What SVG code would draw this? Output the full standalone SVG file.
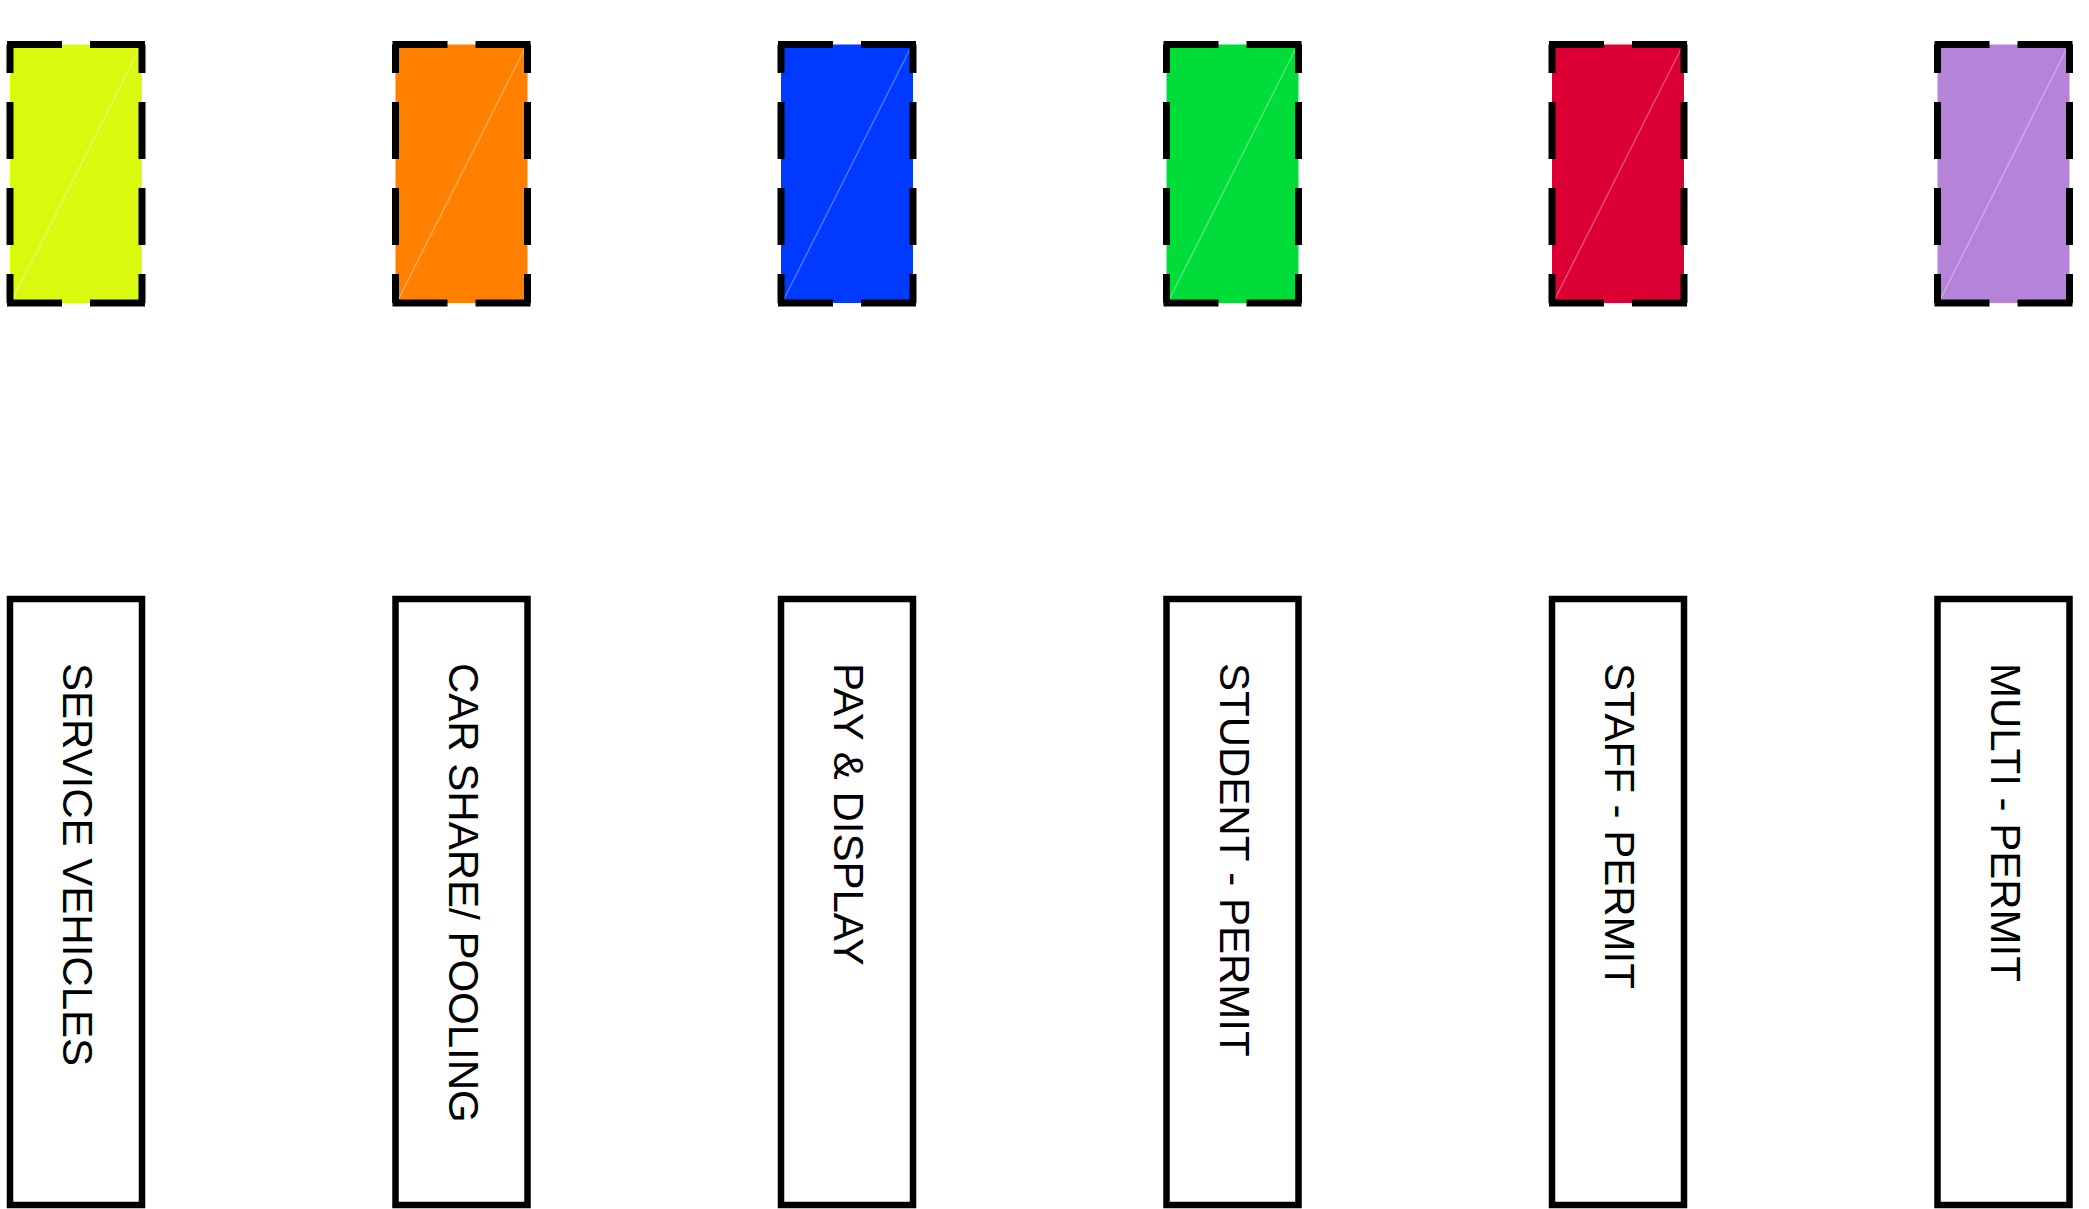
<svg xmlns="http://www.w3.org/2000/svg" width="2089" height="1209" viewBox="0 0 2089 1209">
<style>
.edge { stroke:#000; stroke-width:7; fill:none; }
.h { stroke-dasharray:55 28; }
.v { stroke-dasharray:57 29; stroke-dashoffset:28.5; }
.diag { stroke:#fff; stroke-opacity:0.3; stroke-width:1.5; }
.label-box { fill:#fff; stroke:#000; stroke-width:6.5; }
.label { font-family:"Liberation Sans", Arial, sans-serif; font-size:42px; fill:#000; }
</style>
<rect width="2089" height="1209" fill="#fff"/>
<g id="swatch-service">
  <rect x="10" y="44.5" width="132" height="258.5" fill="#D9F90F"/>
  <line class="diag" x1="12" y1="301" x2="140" y2="47"/>
  <line class="edge h" x1="7" y1="44.5" x2="145" y2="44.5"/>
  <line class="edge h" x1="7" y1="303" x2="145" y2="303"/>
  <line class="edge v" x1="10" y1="44.5" x2="10" y2="303"/>
  <line class="edge v" x1="142" y1="44.5" x2="142" y2="303"/>
</g>
<g id="swatch-carshare">
  <rect x="395.5" y="44.5" width="132" height="258.5" fill="#FF8000"/>
  <line class="diag" x1="397.5" y1="301" x2="525.5" y2="47"/>
  <line class="edge h" x1="392.5" y1="44.5" x2="530.5" y2="44.5"/>
  <line class="edge h" x1="392.5" y1="303" x2="530.5" y2="303"/>
  <line class="edge v" x1="395.5" y1="44.5" x2="395.5" y2="303"/>
  <line class="edge v" x1="527.5" y1="44.5" x2="527.5" y2="303"/>
</g>
<g id="swatch-paydisplay">
  <rect x="781" y="44.5" width="132" height="258.5" fill="#0039FF"/>
  <line class="diag" x1="783" y1="301" x2="911" y2="47"/>
  <line class="edge h" x1="778" y1="44.5" x2="916" y2="44.5"/>
  <line class="edge h" x1="778" y1="303" x2="916" y2="303"/>
  <line class="edge v" x1="781" y1="44.5" x2="781" y2="303"/>
  <line class="edge v" x1="913" y1="44.5" x2="913" y2="303"/>
</g>
<g id="swatch-student">
  <rect x="1166.5" y="44.5" width="132" height="258.5" fill="#00DD38"/>
  <line class="diag" x1="1168.5" y1="301" x2="1296.5" y2="47"/>
  <line class="edge h" x1="1163.5" y1="44.5" x2="1301.5" y2="44.5"/>
  <line class="edge h" x1="1163.5" y1="303" x2="1301.5" y2="303"/>
  <line class="edge v" x1="1166.5" y1="44.5" x2="1166.5" y2="303"/>
  <line class="edge v" x1="1298.5" y1="44.5" x2="1298.5" y2="303"/>
</g>
<g id="swatch-staff">
  <rect x="1552" y="44.5" width="132" height="258.5" fill="#DC0035"/>
  <line class="diag" x1="1554" y1="301" x2="1682" y2="47"/>
  <line class="edge h" x1="1549" y1="44.5" x2="1687" y2="44.5"/>
  <line class="edge h" x1="1549" y1="303" x2="1687" y2="303"/>
  <line class="edge v" x1="1552" y1="44.5" x2="1552" y2="303"/>
  <line class="edge v" x1="1684" y1="44.5" x2="1684" y2="303"/>
</g>
<g id="swatch-multi">
  <rect x="1937.5" y="44.5" width="132" height="258.5" fill="#B683DB"/>
  <line class="diag" x1="1939.5" y1="301" x2="2067.5" y2="47"/>
  <line class="edge h" x1="1934.5" y1="44.5" x2="2072.5" y2="44.5"/>
  <line class="edge h" x1="1934.5" y1="303" x2="2072.5" y2="303"/>
  <line class="edge v" x1="1937.5" y1="44.5" x2="1937.5" y2="303"/>
  <line class="edge v" x1="2069.5" y1="44.5" x2="2069.5" y2="303"/>
</g>
<g id="label-service">
  <rect class="label-box" x="10" y="599" width="132" height="606"/>
  <text class="label" transform="translate(63,663) rotate(90)">SERVICE VEHICLES</text>
</g>
<g id="label-carshare">
  <rect class="label-box" x="395.5" y="599" width="132" height="606"/>
  <text class="label" transform="translate(448.5,663) rotate(90)">CAR SHARE/ POOLING</text>
</g>
<g id="label-paydisplay">
  <rect class="label-box" x="781" y="599" width="132" height="606"/>
  <text class="label" transform="translate(834,663) rotate(90)">PAY &amp; DISPLAY</text>
</g>
<g id="label-student">
  <rect class="label-box" x="1166.5" y="599" width="132" height="606"/>
  <text class="label" transform="translate(1219.5,663) rotate(90)">STUDENT - PERMIT</text>
</g>
<g id="label-staff">
  <rect class="label-box" x="1552" y="599" width="132" height="606"/>
  <text class="label" transform="translate(1605,663) rotate(90)">STAFF - PERMIT</text>
</g>
<g id="label-multi">
  <rect class="label-box" x="1937.5" y="599" width="132" height="606"/>
  <text class="label" transform="translate(1990.5,663) rotate(90)">MULTI - PERMIT</text>
</g>
<g id="connectors"></g>
</svg>
